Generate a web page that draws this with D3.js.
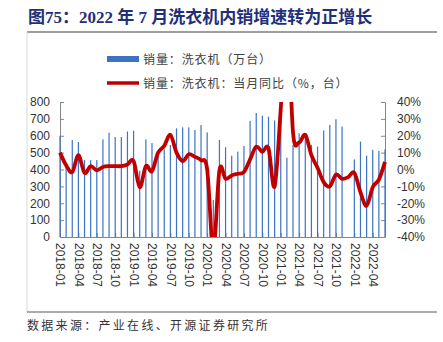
<!DOCTYPE html>
<html>
<head>
<meta charset="utf-8">
<script src="https://cdn.jsdelivr.net/npm/d3@7"></script>
<style>
  body { margin: 0; background: #fff; }
  svg { display: block; }
</style>
</head>
<body>
<svg id="chart" width="443" height="342"></svg>
<script>
// Monthly categories
const months = [
  "2018-01","2018-02","2018-03","2018-04","2018-05","2018-06","2018-07","2018-08","2018-09","2018-10","2018-11","2018-12",
  "2019-01","2019-02","2019-03","2019-04","2019-05","2019-06","2019-07","2019-08","2019-09","2019-10","2019-11","2019-12",
  "2020-01","2020-02","2020-03","2020-04","2020-05","2020-06","2020-07","2020-08","2020-09","2020-10","2020-11","2020-12",
  "2021-01","2021-02","2021-03","2021-04","2021-05","2021-06","2021-07","2021-08","2021-09","2021-10","2021-11","2021-12",
  "2022-01","2022-02","2022-03","2022-04","2022-05","2022-06"
];

// Domestic washing machine sales (10k units); null = no data
const salesWan = [
  600, 420, 575, 563, 456, 456, 456, 579, 619, 593, 593, 625,
  630, 392, 579, 557, 500, 520, 545, 644, 650, 650, 634, 664,
  620, 219, 575, 532, 482, 506, 540, 688, 735, 719, 713, 690,
  760, 470, 545, 615, 585, 546, 536, 631, 664, 698, 654, null,
  460, 565, 482, 516, 510, 520
];

// Year-on-year change of monthly sales (%)
const yoyPct = [
  10, 2.5, -1.5, 8.5, -2, 2, -0.5, 1.5, 2, 2, 2, 3,
  5, -10.5, 2, -1, 10, 14, 20.5, 10, 5, 9, 7.5, 5.5,
  0, -48, -0.5, -5.5, -3.5, -2.5, -1.5, 6, 13.5, 10.5, 12.5, -10,
  36, 95, 22, 16, 20.5, 8.5, 1, -7.5, -10, -3, -5.5, -4.5,
  -2, -13.5, -21.5, -10.5, -6, 4.5
];

const xTickLabels = [
  "2018-01","2018-04","2018-07","2018-10","2019-01","2019-04","2019-07","2019-10",
  "2020-01","2020-04","2020-07","2020-10","2021-01","2021-04","2021-07","2021-10",
  "2022-01","2022-04"
];
const leftTicks = [0, 100, 200, 300, 400, 500, 600, 700, 800];
const rightTicks = [-40, -30, -20, -10, 0, 10, 20, 30, 40];

const titleText = "图75：2022 年 7 月洗衣机内销增速转为正增长";
const legendLabels = ["销量：洗衣机（万台）", "销量：洗衣机：当月同比（%，台）"];
const sourceText = "数据来源：产业在线、开源证券研究所";

const BAR_COLOR = "#3b74c4";
const LINE_COLOR = "#c00000";
const AXIS_COLOR = "#868686";
const LABEL_COLOR = "#333333";
const LATIN = "'Liberation Sans', Arial, sans-serif";
const CJK = "'Noto Sans CJK SC', sans-serif";

const plot = { left: 60, right: 385, top: 102, bottom: 237 };

const svg = d3.select("#chart");

// Title block
svg.append("text")
  .attr("x", 28).attr("y", 23)
  .attr("font-family", "'Liberation Serif', 'Noto Sans CJK SC', serif")
  .attr("font-weight", "bold")
  .attr("font-size", 17)
  .attr("fill", "#1f3078")
  .text(titleText);

svg.append("line")
  .attr("x1", 27).attr("x2", 437).attr("y1", 32).attr("y2", 32)
  .attr("stroke", "#7f7f7f").attr("stroke-width", 1.5);
svg.append("line")
  .attr("x1", 27).attr("x2", 27).attr("y1", 32).attr("y2", 312)
  .attr("stroke", "#d9d9d9").attr("stroke-width", 1);
svg.append("line")
  .attr("x1", 27).attr("x2", 437).attr("y1", 312).attr("y2", 312)
  .attr("stroke", "#595959").attr("stroke-width", 1);

svg.append("text")
  .attr("x", 27).attr("y", 330)
  .attr("font-family", CJK)
  .attr("font-size", 12)
  .attr("letter-spacing", "2.3px")
  .attr("fill", "#333")
  .text(sourceText);

// Scales
const x = d3.scalePoint().domain(months).range([plot.left, plot.right]).padding(0);
const yL = d3.scaleLinear().domain([0, 800]).range([plot.bottom, plot.top]);
const yR = d3.scaleLinear().domain([-40, 40]).range([plot.bottom, plot.top]);

function styleAxis(g) {
  g.select(".domain").attr("stroke", AXIS_COLOR).attr("stroke-width", 1);
  g.selectAll(".tick line").attr("stroke", AXIS_COLOR).attr("stroke-width", 1);
  g.selectAll(".tick text")
    .attr("fill", LABEL_COLOR)
    .attr("font-family", LATIN)
    .attr("font-size", 12);
}

// Left axis (units)
svg.append("g")
  .attr("transform", `translate(${plot.left},0)`)
  .call(d3.axisLeft(yL).tickValues(leftTicks).tickSize(-4).tickSizeOuter(0).tickPadding(10))
  .call(styleAxis);

// Right axis (percent)
svg.append("g")
  .attr("transform", `translate(${plot.right},0)`)
  .call(d3.axisRight(yR).tickValues(rightTicks).tickSize(-4).tickSizeOuter(0).tickPadding(12)
    .tickFormat(d => d + "%"))
  .call(styleAxis);

// Bottom axis with vertical month labels
const xAxisG = svg.append("g")
  .attr("transform", `translate(0,${plot.bottom})`)
  .call(d3.axisBottom(x).tickValues(xTickLabels).tickSize(-4).tickSizeOuter(0))
  .call(styleAxis);
xAxisG.selectAll(".tick text")
  .attr("transform", "rotate(90)")
  .attr("x", 6).attr("y", 0).attr("dy", "0.35em")
  .attr("text-anchor", "start");

// Bars
const barData = months.map((m, i) => ({ m, v: salesWan[i] })).filter(d => d.v != null);
svg.append("g")
  .selectAll("rect")
  .data(barData)
  .join("rect")
  .attr("x", d => x(d.m) - 0.6)
  .attr("width", 1.2)
  .attr("y", d => yL(d.v))
  .attr("height", d => yL(0) - yL(d.v))
  .attr("fill", BAR_COLOR);

// Smoothed YoY line, clipped to the plot area
svg.append("clipPath").attr("id", "plotClip")
  .append("rect")
  .attr("x", plot.left - 3).attr("y", plot.top)
  .attr("width", plot.right - plot.left + 6)
  .attr("height", plot.bottom - plot.top);

const line = d3.line()
  .x((d, i) => x(months[i]))
  .y(d => yR(d))
  .curve(d3.curveCatmullRom.alpha(0));

svg.append("path")
  .datum(yoyPct)
  .attr("clip-path", "url(#plotClip)")
  .attr("d", line)
  .attr("fill", "none")
  .attr("stroke", LINE_COLOR)
  .attr("stroke-width", 3.8)
  .attr("stroke-linejoin", "round")
  .attr("stroke-linecap", "butt");

// Legend
const legend = svg.append("g");
legend.append("rect")
  .attr("x", 107).attr("y", 56).attr("width", 32).attr("height", 6)
  .attr("fill", BAR_COLOR);
legend.append("line")
  .attr("x1", 107).attr("x2", 139).attr("y1", 83).attr("y2", 83)
  .attr("stroke", LINE_COLOR).attr("stroke-width", 3.5);
legend.selectAll("text")
  .data(legendLabels)
  .join("text")
  .attr("x", 143)
  .attr("y", (d, i) => 64 + i * 24)
  .attr("font-family", CJK)
  .attr("font-size", 12)
  .attr("letter-spacing", "0.9px")
  .attr("fill", "#404040")
  .text(d => d);
</script>
</body>
</html>
